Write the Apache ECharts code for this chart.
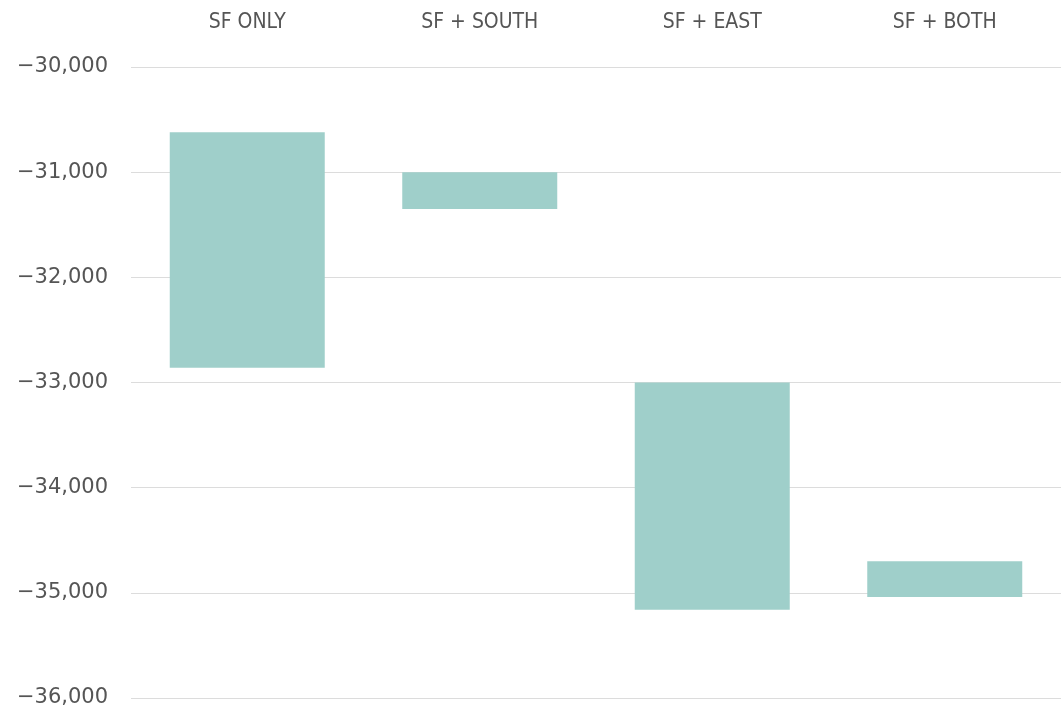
<!DOCTYPE html>
<html>
<head>
<meta charset="utf-8">
<title>Range bars</title>
<script src="https://cdn.jsdelivr.net/npm/echarts@6/dist/echarts.min.js"></script>
<style>
  html, body { margin: 0; padding: 0; background: #fff; }
  #chart { width: 1061px; height: 711px; }
</style>
</head>
<body>
<div id="chart"></div>
<script>
/* global echarts */

const categories = ["SF ONLY", "SF + SOUTH", "SF + EAST", "SF + BOTH"];
// top and bottom edge of each floating bar
const barTops = [-30620, -31000, -33000, -34700];
const barBottoms = [-32860, -31350, -35160, -35040];
const yTicks = [-36000, -35000, -34000, -33000, -32000, -31000, -30000];

const spans = barBottoms.map((b, i) => b - barTops[i]);

const chart = echarts.init(document.getElementById("chart"), null, { renderer: "canvas" });

function formatTick(v) {
  const abs = Math.abs(v).toLocaleString("en-US");
  return (v < 0 ? "\u2212" : "") + abs;
}

const option = {
  animation: false,
  grid: { left: 131, right: 0, top: 67, bottom: 13 },
  xAxis: {
    type: "category",
    position: "top",
    data: categories,
    axisLine: { show: false },
    axisTick: { show: false },
    axisLabel: {
      margin: 34,
      color: "#555",
      fontSize: 21,
      fontFamily: "'DejaVu Sans Condensed', 'Liberation Sans Narrow', sans-serif",
    },
  },
  yAxis: {
    type: "value",
    min: yTicks[0],
    max: yTicks[yTicks.length - 1],
    interval: 1000,
    axisLine: { show: false },
    axisTick: { show: false },
    splitLine: { lineStyle: { color: "#dcdcdc", width: 1 } },
    axisLabel: {
      margin: 23,
      color: "#555",
      fontSize: 21,
      fontFamily: "'DejaVu Sans', sans-serif",
      formatter: formatTick,
      padding: [3, 0, 0, 0],
    },
  },
  series: [
    {
      type: "bar",
      stack: "range",
      silent: true,
      barWidth: 155,
      itemStyle: { color: "transparent" },
      data: barTops,
    },
    {
      type: "bar",
      stack: "range",
      barWidth: 155,
      itemStyle: { color: "#9fcfca" },
      data: spans,
    },
  ],
};

chart.setOption(option);
</script>
</body>
</html>
